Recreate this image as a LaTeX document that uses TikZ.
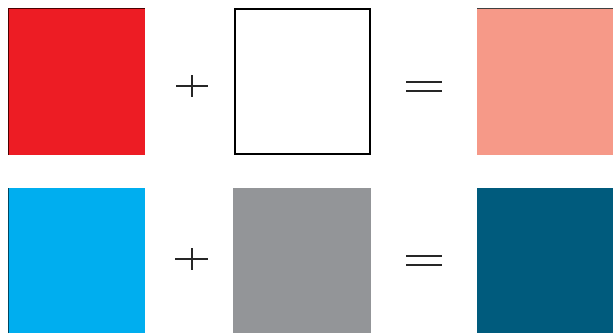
\documentclass[tikz,border=0pt]{standalone}
\definecolor{cred}{HTML}{ED1C24}
\definecolor{csalmon}{HTML}{F69988}
\definecolor{cblue}{HTML}{00AEEF}
\definecolor{cgray}{HTML}{939598}
\definecolor{cteal}{HTML}{005B7D}
\begin{document}
\begin{tikzpicture}[x=1pt,y=-1pt,
  sq/.style={anchor=north west,inner sep=0pt,outer sep=0pt,minimum width=137pt,minimum height=147pt,draw=none},
  opline/.style={line width=1.4pt,black!85}]
\useasboundingbox (0,0) rectangle (613,333);
% row 1
\node[sq,fill=cred] (r1a) at (8,8) {};
\node[sq,minimum width=135pt,minimum height=145pt,draw=black,line width=2pt] (r1b) at (235,9) {};
\node[sq,fill=csalmon,minimum width=136pt] (r1c) at (477,8) {};
% row 2
\node[sq,fill=cblue,minimum height=145pt] (r2a) at (8,188) {};
\node[sq,fill=cgray,minimum width=138pt,minimum height=145pt] (r2b) at (233,188) {};
\node[sq,fill=cteal,minimum width=136pt,minimum height=145pt] (r2c) at (477,188) {};
% thin dark edges
\draw[line width=0.7pt,black!70!red] (r1a.south west) -- (r1a.north west) -- (r1a.north east);
\draw[line width=0.7pt,black!75] (r1c.north west) -- (r1c.north east);
\draw[line width=0.7pt,black!60!cblue] (r2a.south west) -- (r2a.north west);
% operators
\coordinate (p1) at (192,86);
\draw[opline] (176,86) -- (208,86);
\draw[opline] (192,75) -- (192,97);
\coordinate (p2) at (192,259);
\draw[opline] (175,259) -- (208,259);
\draw[opline] (192,248) -- (192,270);
\draw[opline] (406,82) -- (442,82);
\draw[opline] (406,91) -- (442,91);
\draw[opline] (406,256) -- (442,256);
\draw[opline] (406,265) -- (442,265);
\end{tikzpicture}
\end{document}
